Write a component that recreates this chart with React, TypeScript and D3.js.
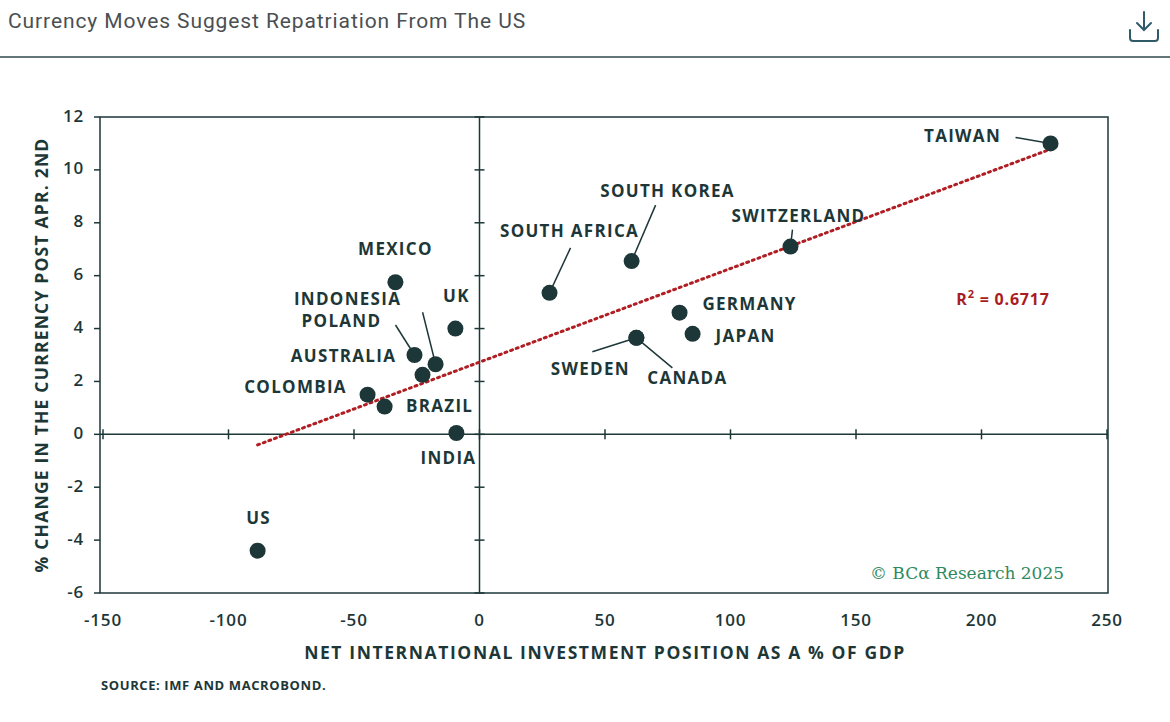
import React from 'react';
import * as d3 from 'd3';

const countries = ['US', 'COLOMBIA', 'BRAZIL', 'POLAND', 'AUSTRALIA', 'INDONESIA', 'MEXICO', 'UK', 'INDIA', 'SOUTH AFRICA', 'SOUTH KOREA', 'SWEDEN', 'CANADA', 'GERMANY', 'JAPAN', 'SWITZERLAND', 'TAIWAN'];
const niip = [-88.4, -44.6, -37.8, -25.9, -22.7, -17.5, -33.5, -9.6, -9.2, 27.9, 60.6, 62.5, 62.5, 79.7, 84.9, 123.9, 227.5];
const fxChange = [-4.4, 1.5, 1.05, 3.0, 2.25, 2.65, 5.75, 4.0, 0.05, 5.35, 6.55, 3.65, 3.65, 4.6, 3.8, 7.1, 11.0];
const xTicks = [-150, -100, -50, 0, 50, 100, 150, 200, 250];
const yTicks = [-6, -4, -2, 0, 2, 4, 6, 8, 10, 12];
const trendSlope = 0.0354;
const trendIntercept = 2.73;
const trendRange = [-88.4, 227.5];

// label offsets (px, relative to the dot) and optional leader start
const labelPos: Record<string, { dx: number; dy: number; leader?: [number, number] }> = {
  TAIWAN: { dx: -88, dy: -6, leader: [-35, -6] },
  'SOUTH KOREA': { dx: 36, dy: -69, leader: [24, -56] },
  SWITZERLAND: { dx: 8, dy: -29, leader: [2, -17] },
  'SOUTH AFRICA': { dx: 20, dy: -60, leader: [21, -45] },
  MEXICO: { dx: 0, dy: -32 },
  UK: { dx: 1, dy: -31 },
  INDONESIA: { dx: -88, dy: -64, leader: [-13, -52] },
  POLAND: { dx: -73, dy: -33, leader: [-19, -30] },
  AUSTRALIA: { dx: -79, dy: -17 },
  COLOMBIA: { dx: -72, dy: -6 },
  BRAZIL: { dx: 55, dy: 1 },
  INDIA: { dx: -8, dy: 26 },
  US: { dx: 1, dy: -31 },
  GERMANY: { dx: 70, dy: -7 },
  JAPAN: { dx: 53, dy: 4 },
  SWEDEN: { dx: -46, dy: 33, leader: [-44, 14] },
  CANADA: { dx: 51, dy: 42, leader: [36, 30] },
};

const ink = '#1d3738';

export default function App() {
  const x = d3.scaleLinear().domain([-150, 250]).range([103, 1107]);
  const y = d3.scaleLinear().domain([-6, 12]).range([593, 117]);
  const font = '"Open Sans", sans-serif';
  const line = d3.line<number>().x((d) => x(d)).y((d) => y(trendIntercept + trendSlope * d));

  return (
    <svg width={1170} height={722} style={{ position: 'absolute', left: 0, top: 0, background: '#fff' }} fontFamily={font}>
      <text x={8} y={28} fontSize={21} letterSpacing={0.9} fill="#4a4f52" fontFamily='Roboto, sans-serif'>Currency Moves Suggest Repatriation From The US</text>
      <line x1={0} x2={1170} y1={57} y2={57} stroke="#2f4a4c" strokeWidth={1.5} />
      <g stroke="#2f5a6a" strokeWidth={2} fill="none" strokeLinecap="round">
        <path d="M1144,12 V30 M1137,23 L1144,30 L1151,23" />
        <path d="M1130,30 V38 Q1130,41 1133,41 H1155 Q1158,41 1158,38 V30" />
      </g>

      <rect x={100} y={117} width={1008} height={476} fill="none" stroke={ink} strokeWidth={1.5} />
      <line x1={x(0)} x2={x(0)} y1={117} y2={593} stroke={ink} strokeWidth={1.5} />
      <line x1={100} x2={1108} y1={y(0)} y2={y(0)} stroke={ink} strokeWidth={1.5} />
      {yTicks.map((t) => (
        <g key={'y' + t}>
          <line x1={x(0) - 5} x2={x(0) + 5} y1={y(t)} y2={y(t)} stroke={ink} strokeWidth={1.5} />
          <line x1={100} x2={94} y1={y(t)} y2={y(t)} stroke={ink} strokeWidth={1.5} />
          <text x={84} y={y(t)} textAnchor="end" dominantBaseline="middle" fontSize={17} fontWeight={600} letterSpacing={0.8} fill={ink}>{t}</text>
        </g>
      ))}
      {xTicks.map((t) => (
        <g key={'x' + t}>
          <line x1={x(t)} x2={x(t)} y1={y(0) - 5} y2={y(0) + 5} stroke={ink} strokeWidth={1.5} />
          <text x={x(t)} y={626} textAnchor="middle" fontSize={17} fontWeight={600} letterSpacing={0.8} fill={ink}>{t}</text>
        </g>
      ))}
      <text x={605} y={659} textAnchor="middle" fontSize={17.5} fontWeight={700} letterSpacing={1.6} fill={ink}>NET INTERNATIONAL INVESTMENT POSITION AS A % OF GDP</text>
      <text transform={`translate(48,355) rotate(-90)`} textAnchor="middle" fontSize={17.5} fontWeight={700} letterSpacing={1.2} fill={ink}>% CHANGE IN THE CURRENCY POST APR. 2ND</text>
      <text x={101} y={690} fontSize={13} fontWeight={700} letterSpacing={0.6} fill={ink}>SOURCE: IMF AND MACROBOND.</text>

      <path d={line(trendRange) ?? ''} fill="none" stroke="#b01e23" strokeWidth={3} strokeDasharray="2 4" strokeLinecap="round" />

      {countries.map((c, i) => {
        const px = x(niip[i]);
        const py = y(fxChange[i]);
        const l = labelPos[c];
        return (
          <g key={c}>
            {l.leader && (
              <line x1={px + l.leader[0]} y1={py + l.leader[1]} x2={px} y2={py} stroke={ink} strokeWidth={1.5} />
            )}
            <circle cx={px} cy={py} r={8} fill={ink} />
            <text x={px + l.dx} y={py + l.dy} textAnchor="middle" dominantBaseline="middle" fontSize={17} fontWeight={700} letterSpacing={1.3} fill={ink}>{c}</text>
          </g>
        );
      })}

      <text x={1003} y={305} textAnchor="middle" fontSize={16} fontWeight={700} letterSpacing={0.8} fill="#a81c22">
        R<tspan dy={-7} fontSize={11}>2</tspan><tspan dy={7}> = 0.6717</tspan>
      </text>
      <text x={967} y={579} textAnchor="middle" fontSize={17} fill="#2e8a5e" fontFamily='"DejaVu Serif", serif'>© BCα Research 2025</text>
    </svg>
  );
}
